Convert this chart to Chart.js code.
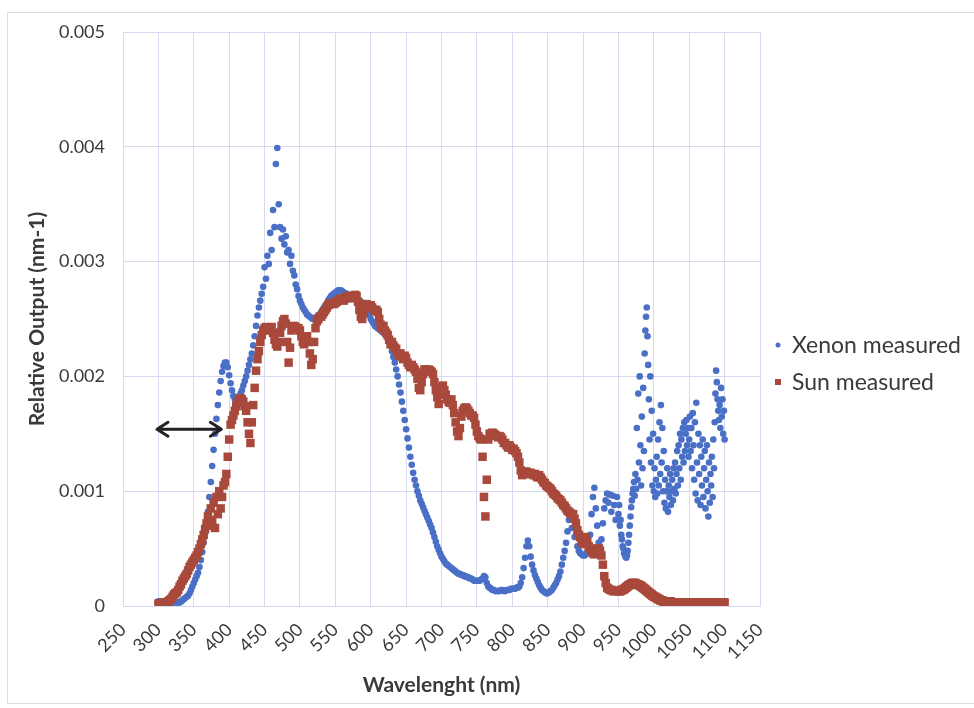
<!DOCTYPE html>
<html>
<head>
<meta charset="utf-8">
<title>Xenon vs Sun spectrum</title>
<script src="https://cdn.jsdelivr.net/npm/chart.js@4.4.1/dist/chart.umd.min.js"></script>
<style>
  html, body { margin: 0; padding: 0; background: #fff; }
  #wrap { width: 974px; height: 708px; }
</style>
</head>
<body>
<div id="wrap"><canvas id="spectrum" width="974" height="708"></canvas></div>
<script>

// wavelength grid (nm): 2 nm steps, 1 nm in the noisy NIR part
const wavelengths = [
  300,302,304,306,308,310,312,314,316,318,
  320,322,324,326,328,330,332,334,336,338,
  340,342,344,346,348,350,352,354,356,358,
  360,362,364,366,368,370,372,374,376,378,
  380,382,384,386,388,390,392,394,396,398,
  400,402,404,406,408,410,412,414,416,418,
  420,422,424,426,428,430,432,434,436,438,
  440,442,444,446,448,450,452,454,456,458,
  460,462,464,466,468,470,472,474,476,478,
  480,482,484,486,488,490,492,494,496,498,
  500,502,504,506,508,510,512,514,516,518,
  520,522,524,526,528,530,532,534,536,538,
  540,542,544,546,548,550,552,554,556,558,
  560,562,564,566,568,570,572,574,576,578,
  580,582,584,586,588,590,592,594,596,598,
  600,602,604,606,608,610,612,614,616,618,
  620,622,624,626,628,630,632,634,636,638,
  640,642,644,646,648,650,652,654,656,658,
  660,662,664,666,668,670,672,674,676,678,
  680,682,684,686,688,690,692,694,696,698,
  700,702,704,706,708,710,712,714,716,718,
  720,722,724,726,728,730,732,734,736,738,
  740,742,744,746,748,750,752,754,756,758,
  760,762,764,766,768,770,772,774,776,778,
  780,782,784,786,788,790,792,794,796,798,
  800,802,804,806,808,810,812,814,816,818,
  820,822,824,826,828,830,832,834,836,838,
  840,842,844,846,848,850,852,854,856,858,
  860,862,864,866,868,870,872,874,876,878,
  880,882,884,886,888,890,892,894,896,898,
  900,902,904,906,908,910,912,914,916,918,
  920,922,924,926,928,930,932,934,936,938,
  940,942,944,946,948,
  950,951,952,953,954,955,956,957,958,959,
  960,961,962,963,964,965,966,967,968,969,
  970,971,972,973,974,975,976,977,978,979,
  980,981,982,983,984,985,986,987,988,989,
  990,991,992,993,994,995,996,997,998,999,
  1000,1001,1002,1003,1004,1005,1006,1007,1008,1009,
  1010,1011,1012,1013,1014,1015,1016,1017,1018,1019,
  1020,1021,1022,1023,1024,1025,1026,1027,1028,1029,
  1030,1031,1032,1033,1034,1035,1036,1037,1038,1039,
  1040,1041,1042,1043,1044,1045,1046,1047,1048,1049,
  1050,1051,1052,1053,1054,1055,1056,1057,1058,1059,
  1060,1061,1062,1063,1064,1065,1066,1067,1068,1069,
  1070,1071,1072,1073,1074,1075,1076,1077,1078,1079,
  1080,1081,1082,1083,1084,1085,1086,1087,1088,1089,
  1090,1091,1092,1093,1094,1095,1096,1097,1098,1099,
  1100
];

// Xenon measured (nm-1)
const xenonValues = [
  0.00004,0.00004,0.00004,0.00004,0.00004,0.00004,0.00003,0.00003,0.00003,0.00003,
  0.00003,0.00003,0.00003,0.00003,0.00003,0.00003,0.00004,0.00005,0.00006,0.00007,
  0.00008,0.00009,0.00011,0.00014,0.00017,0.0002,0.00023,0.00026,0.00029,0.00034,
  0.0004,0.00047,0.00055,0.00063,0.00072,0.00082,0.00095,0.00108,0.00122,0.00136,
  0.0015,0.00163,0.00175,0.00186,0.00196,0.00204,0.00209,0.00212,0.00212,0.00208,
  0.00201,0.00194,0.00188,0.00183,0.0018,0.00179,0.0018,0.00182,0.00185,0.00188,
  0.00192,0.00196,0.002,0.00205,0.0021,0.00215,0.0022,0.00227,0.00235,0.00244,
  0.00253,0.0026,0.00266,0.00272,0.00278,0.00295,0.00285,0.00305,0.00298,0.00325,
  0.0031,0.00345,0.0033,0.00385,0.00399,0.0035,0.0033,0.0032,0.00328,0.00315,
  0.00322,0.00308,0.0031,0.00298,0.00305,0.00292,0.00288,0.0028,0.00276,0.0027,
  0.00266,0.00263,0.0026,0.00258,0.00256,0.00254,0.00253,0.00252,0.00251,0.0025,
  0.0025,0.00251,0.00252,0.00253,0.00254,0.00256,0.00258,0.0026,0.00262,0.00264,
  0.00266,0.00268,0.0027,0.00271,0.00272,0.00273,0.00274,0.00275,0.00275,0.00275,
  0.00274,0.00273,0.00272,0.00272,0.00271,0.0027,0.0027,0.00269,0.00269,0.00268,
  0.00268,0.00267,0.00266,0.00265,0.00263,0.00261,0.0026,0.00258,0.00256,0.00253,
  0.0025,0.00248,0.00246,0.00244,0.00243,0.00242,0.00241,0.0024,0.00239,0.00238,
  0.00237,0.00235,0.00233,0.0023,0.00227,0.00222,0.00217,0.00212,0.00206,0.002,
  0.00193,0.00186,0.00178,0.0017,0.00162,0.00154,0.00146,0.00138,0.0013,0.00123,
  0.00116,0.0011,0.00105,0.001,0.00096,0.00092,0.00089,0.00086,0.00083,0.0008,
  0.00077,0.00074,0.00071,0.00068,0.00064,0.0006,0.00056,0.00052,0.00049,0.00046,
  0.00043,0.00041,0.00039,0.00037,0.00036,0.00035,0.00034,0.00033,0.00032,0.00031,
  0.0003,0.00029,0.00028,0.00028,0.00027,0.00027,0.00026,0.00026,0.00025,0.00025,
  0.00024,0.00024,0.00023,0.00022,0.00022,0.00022,0.00022,0.00022,0.00023,0.00024,
  0.00026,0.00025,0.0002,0.00017,0.00016,0.00015,0.00014,0.00014,0.00013,0.00013,
  0.00013,0.00013,0.00014,0.00014,0.00013,0.00013,0.00014,0.00014,0.00014,0.00015,
  0.00015,0.00015,0.00015,0.00016,0.00016,0.00017,0.0002,0.00025,0.00033,0.00042,
  0.00052,0.00057,0.00052,0.00043,0.00036,0.00031,0.00027,0.00024,0.00021,0.00018,
  0.00016,0.00014,0.00013,0.00012,0.00011,0.00011,0.00012,0.00013,0.00014,0.00016,
  0.00018,0.0002,0.00023,0.00026,0.0003,0.00036,0.00042,0.00048,0.00055,0.00065,
  0.00075,0.00078,0.00068,0.00076,0.0006,0.0007,0.00052,0.00048,0.00046,0.00045,
  0.00044,0.00044,0.00045,0.00047,0.0005,0.00062,0.0008,0.00095,0.00103,0.00085,
  0.0007,0.00055,0.00052,0.00058,0.00072,0.00085,0.00092,0.00098,0.0009,0.00097,
  0.00082,0.00096,0.00088,0.00075,0.00095,
  0.0008,0.00088,0.0007,0.00075,0.00062,0.00058,0.00052,0.0005,0.00046,0.00045,
  0.00043,0.00042,0.00044,0.00048,0.00055,0.00062,0.0007,0.00078,0.00086,0.00092,
  0.00098,0.00102,0.00108,0.00096,0.00115,0.00102,0.00155,0.0011,0.00185,0.00125,
  0.002,0.0014,0.00105,0.00165,0.0012,0.0019,0.00135,0.0022,0.0024,0.00252,
  0.0026,0.00235,0.0021,0.0018,0.00145,0.002,0.00125,0.0017,0.00105,0.0015,
  0.001,0.0012,0.00095,0.0011,0.0013,0.00098,0.00145,0.00105,0.0016,0.00115,
  0.00175,0.00125,0.00155,0.001,0.00135,0.0009,0.0011,0.00085,0.001,0.0012,
  0.00082,0.00105,0.00095,0.00115,0.00088,0.001,0.0011,0.00092,0.0012,0.00102,
  0.00125,0.00098,0.00115,0.00135,0.00105,0.0014,0.0012,0.0015,0.0011,0.00145,
  0.0013,0.00155,0.00125,0.0016,0.00135,0.0015,0.00162,0.0014,0.00155,0.0013,
  0.00145,0.00165,0.00135,0.00155,0.0012,0.00168,0.0014,0.0011,0.0016,0.00098,
  0.00177,0.00125,0.00092,0.0015,0.00115,0.0014,0.00088,0.0013,0.00105,0.00145,
  0.00095,0.0012,0.00135,0.00085,0.0011,0.0014,0.001,0.00078,0.00125,0.0009,
  0.00115,0.00105,0.0013,0.00095,0.00145,0.0012,0.0016,0.00185,0.00205,0.00195,
  0.0018,0.0017,0.00162,0.00175,0.00155,0.0019,0.00165,0.0018,0.0015,0.0017,
  0.00145
];

// Sun measured (nm-1)
const sunValues = [
  0.00002,0.00002,0.00002,0.00002,0.00003,0.00003,0.00003,0.00004,0.00005,0.00006,
  0.00008,0.0001,0.00011,0.00012,0.00014,0.00017,0.00019,0.00022,0.00024,0.00026,
  0.00028,0.00031,0.00034,0.00036,0.00038,0.0004,0.00042,0.00044,0.00047,0.0005,
  0.00054,0.00058,0.00062,0.00067,0.00072,0.00078,0.0007,0.00085,0.00075,0.0009,
  0.00068,0.00095,0.0008,0.001,0.00085,0.00095,0.00105,0.00108,0.00115,0.0013,
  0.00145,0.00158,0.00162,0.00166,0.0017,0.00174,0.00177,0.00179,0.00181,0.0018,
  0.00178,0.00174,0.0017,0.0016,0.0015,0.00142,0.0016,0.00175,0.0019,0.00205,
  0.00215,0.00222,0.0023,0.00236,0.0024,0.00242,0.00243,0.00242,0.0024,0.00242,
  0.00243,0.00238,0.00232,0.00228,0.00226,0.0023,0.00238,0.00244,0.00248,0.0025,
  0.00246,0.0023,0.00212,0.00225,0.0024,0.00243,0.00244,0.00243,0.00242,0.00242,
  0.0024,0.00235,0.0023,0.00228,0.00232,0.00235,0.0023,0.0022,0.0021,0.00215,
  0.0023,0.00242,0.00248,0.0025,0.00252,0.00252,0.00254,0.00256,0.00258,0.0026,
  0.00262,0.00263,0.00264,0.00264,0.00263,0.00264,0.00265,0.00266,0.00267,0.00268,
  0.00267,0.00266,0.00268,0.00269,0.0027,0.0027,0.00269,0.00268,0.0027,0.00271,
  0.0027,0.00265,0.00258,0.00252,0.0025,0.00256,0.00262,0.00263,0.00262,0.00261,
  0.00262,0.0026,0.00258,0.00257,0.00258,0.00256,0.0025,0.00245,0.00242,0.00244,
  0.0024,0.00238,0.00236,0.00232,0.00228,0.0023,0.00227,0.00225,0.00224,0.0022,
  0.00218,0.0022,0.00217,0.00215,0.00218,0.00216,0.00212,0.0021,0.00208,0.0021,
  0.00208,0.00206,0.00204,0.00198,0.0019,0.00188,0.00195,0.00202,0.00206,0.00206,
  0.00205,0.00206,0.00205,0.00204,0.00202,0.00195,0.00188,0.00182,0.00176,0.00185,
  0.0019,0.00192,0.00188,0.00184,0.0018,0.00178,0.00177,0.0018,0.00175,0.00168,
  0.0016,0.00152,0.00148,0.00155,0.00165,0.0017,0.00172,0.00173,0.00172,0.0017,
  0.00168,0.00166,0.00166,0.00164,0.00158,0.00152,0.00148,0.00146,0.00145,0.0013,
  0.00095,0.00078,0.0011,0.00145,0.0015,0.0015,0.00151,0.0015,0.00149,0.00148,
  0.00147,0.00148,0.00147,0.00145,0.00142,0.00142,0.0014,0.00138,0.0014,0.00138,
  0.00136,0.00137,0.00135,0.00133,0.0013,0.00125,0.00118,0.00114,0.00115,0.00117,
  0.00117,0.00116,0.00115,0.00116,0.00115,0.00114,0.00115,0.00113,0.00112,0.00114,
  0.00112,0.0011,0.00108,0.00107,0.00105,0.00104,0.00103,0.00102,0.001,0.00098,
  0.00097,0.00096,0.00094,0.00093,0.00092,0.0009,0.00088,0.00087,0.00085,0.00083,
  0.00082,0.00081,0.0008,0.0008,0.00076,0.00072,0.00066,0.00062,0.0006,0.00056,
  0.00054,0.00058,0.0006,0.00056,0.00052,0.0005,0.00048,0.00046,0.00045,0.00047,
  0.0005,0.0005,0.00048,0.00044,0.00036,0.00026,0.0002,0.00016,0.00015,0.00014,
  0.00014,0.00013,0.00013,0.00013,0.00013,
  0.00013,0.00013,0.00013,0.00013,0.00014,0.00014,0.00014,0.00014,0.00015,0.00015,
  0.00016,0.00016,0.00017,0.00017,0.00018,0.00018,0.00019,0.00019,0.00019,0.0002,
  0.0002,0.0002,0.0002,0.0002,0.0002,0.00019,0.00019,0.00019,0.00019,0.00018,
  0.00018,0.00018,0.00017,0.00017,0.00016,0.00016,0.00015,0.00015,0.00014,0.00014,
  0.00013,0.00013,0.00012,0.00012,0.00011,0.00011,0.0001,0.0001,0.00009,0.00009,
  0.00008,0.00008,0.00008,0.00007,0.00007,0.00007,0.00006,0.00006,0.00006,0.00005,
  0.00005,0.00005,0.00005,0.00004,0.00004,0.00004,0.00004,0.00004,0.00004,0.00004,
  0.00004,0.00004,0.00004,0.00004,0.00004,0.00003,0.00003,0.00003,0.00003,0.00003,
  0.00003,0.00003,0.00003,0.00003,0.00003,0.00003,0.00003,0.00003,0.00003,0.00003,
  0.00003,0.00003,0.00003,0.00003,0.00003,0.00003,0.00003,0.00003,0.00003,0.00003,
  0.00003,0.00003,0.00003,0.00003,0.00003,0.00003,0.00003,0.00003,0.00003,0.00003,
  0.00003,0.00003,0.00003,0.00003,0.00003,0.00003,0.00003,0.00003,0.00003,0.00003,
  0.00003,0.00003,0.00003,0.00003,0.00003,0.00003,0.00003,0.00003,0.00003,0.00003,
  0.00003,0.00003,0.00003,0.00003,0.00003,0.00003,0.00003,0.00003,0.00003,0.00003,
  0.00003,0.00003,0.00003,0.00003,0.00003,0.00003,0.00003,0.00003,0.00003,0.00003,
  0.00003
];

// axis ranges
const xMin = 250, xMax = 1150, xStep = 50;
const yMin = 0, yMax = 0.005, yStep = 0.001;

// the double arrow marking the UV gap
const arrowFrom = 298, arrowTo = 389, arrowLevel = 0.00154;

const textColor = "#3a3a3a";
const gridColor = "#d6daef";
const xenonColor = "#4a6fc6";
const sunColor = "#a8493b";

// light frame round the whole chart
const framePlugin = {
    id: "frame",
    beforeDraw(chart) {
        const ctx = chart.ctx;
        ctx.save();
        ctx.fillStyle = "#fff";
        ctx.fillRect(0, 0, chart.width, chart.height);
        ctx.strokeStyle = "#dcdcdc";
        ctx.lineWidth = 1;
        ctx.strokeRect(7.5, 12.5, chart.width, chart.height - 17);
        ctx.restore();
    }
};

const arrowPlugin = {
    id: "arrow",
    afterDatasetsDraw(chart) {
        const { ctx, scales } = chart;
        const x1 = scales.x.getPixelForValue(arrowFrom);
        const x2 = scales.x.getPixelForValue(arrowTo);
        const y = scales.y.getPixelForValue(arrowLevel);
        ctx.save();
        ctx.strokeStyle = "#222";
        ctx.lineWidth = 3;
        ctx.lineCap = "round";
        ctx.lineJoin = "round";
        ctx.beginPath();
        ctx.moveTo(x1, y);
        ctx.lineTo(x2, y);
        ctx.moveTo(x1 + 11, y - 7);
        ctx.lineTo(x1, y);
        ctx.lineTo(x1 + 11, y + 7);
        ctx.moveTo(x2 - 11, y - 7);
        ctx.lineTo(x2, y);
        ctx.lineTo(x2 - 11, y + 7);
        ctx.stroke();
        ctx.restore();
    }
};

const legendPlugin = {
    id: "sideLegend",
    afterDraw(chart) {
        const ctx = chart.ctx;
        const sets = chart.data.datasets;
        const left = chart.chartArea.right + 18;
        const rows = [345, 382];
        ctx.save();
        ctx.font = "23px Lato";
        ctx.textBaseline = "middle";
        sets.forEach((ds, i) => {
            const y = rows[i];
            ctx.fillStyle = ds.pointBackgroundColor;
            if (ds.pointStyle === "rect") {
                ctx.fillRect(left - 3, y - 3, 6, 6);
            } else {
                ctx.beginPath();
                ctx.arc(left, y, 2.5, 0, Math.PI * 2);
                ctx.fill();
            }
            ctx.fillStyle = textColor;
            ctx.fillText(ds.label, left + 14, y + 1);
        });
        ctx.restore();
    }
};

new Chart(document.getElementById("spectrum"), {
    type: "scatter",
    data: {
        datasets: [
            {
                label: "Xenon measured",
                data: wavelengths.map((nm, i) => ({ x: nm, y: xenonValues[i] })),
                pointStyle: "circle",
                pointRadius: 3.3,
                pointBorderWidth: 0,
                pointBackgroundColor: xenonColor,
                order: 1
            },
            {
                label: "Sun measured",
                data: wavelengths.map((nm, i) => ({ x: nm, y: sunValues[i] })),
                pointStyle: "rect",
                pointRadius: 6,
                pointBorderWidth: 0,
                pointBackgroundColor: sunColor,
                order: 0
            }
        ]
    },
    options: {
        responsive: false,
        animation: false,
        events: [],
        layout: { padding: { top: 32, right: 214, left: 0, bottom: 0 } },
        plugins: {
            legend: { display: false },
            tooltip: { enabled: false }
        },
        scales: {
            x: {
                type: "linear",
                min: xMin,
                max: xMax,
                afterFit(scale) { scale.height = 102; },
                ticks: {
                    stepSize: xStep,
                    autoSkip: false,
                    maxRotation: 45,
                    minRotation: 45,
                    padding: 13,
                    color: textColor,
                    font: { family: "Lato", size: 18 },
                    callback: v => String(v)
                },
                grid: { color: gridColor, drawTicks: false },
                border: { color: gridColor },
                title: {
                    display: true,
                    text: "Wavelenght (nm)",
                    color: textColor,
                    font: { family: "Lato", size: 21, weight: "bold" },
                    padding: { top: 0, bottom: 10 }
                }
            },
            y: {
                min: yMin,
                max: yMax,
                afterFit(scale) { scale.width = 123; },
                ticks: {
                    stepSize: yStep,
                    padding: 18,
                    color: textColor,
                    font: { family: "Lato", size: 18 },
                    callback: v => v === 0 ? "0" : v.toFixed(3)
                },
                grid: { color: gridColor, drawTicks: false },
                border: { color: gridColor },
                title: {
                    display: true,
                    text: "Relative Output (nm-1)",
                    color: textColor,
                    font: { family: "Lato", size: 21, weight: "bold" },
                    padding: { top: 25, bottom: 0 }
                }
            }
        }
    },
    plugins: [framePlugin, arrowPlugin, legendPlugin]
});
</script>
</body>
</html>
